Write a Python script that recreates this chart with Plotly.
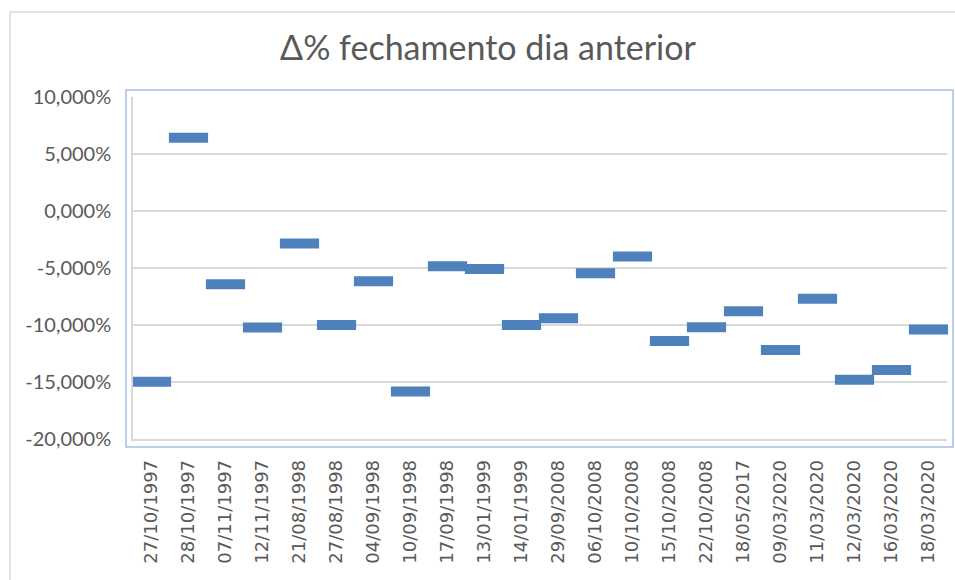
import plotly.graph_objects as go

# ---- data ----
datas = ["27/10/1997", "28/10/1997", "07/11/1997", "12/11/1997", "21/08/1998",
         "27/08/1998", "04/09/1998", "10/09/1998", "17/09/1998", "13/01/1999",
         "14/01/1999", "29/09/2008", "06/10/2008", "10/10/2008", "15/10/2008",
         "22/10/2008", "18/05/2017", "09/03/2020", "11/03/2020", "12/03/2020",
         "16/03/2020", "18/03/2020"]
variacao_pct = [-14.97, 6.42, -6.42, -10.21, -2.86,
                -10.00, -6.16, -15.83, -4.84, -5.08,
                -10.00, -9.40, -5.45, -4.00, -11.40,
                -10.20, -8.80, -12.20, -7.70, -14.80,
                -13.95, -10.40]
y_tick_vals = [10, 5, 0, -5, -10, -15, -20]
y_tick_text = ["10,000%", "5,000%", "0,000%", "-5,000%", "-10,000%", "-15,000%", "-20,000%"]

W, H = 955, 580
L, R, T, B = 133, 8, 97, 141
pw, ph = W - L - R, H - T - B

def px_x(px):
    return (px - L) / pw

def px_y(py):
    return (H - B - py) / ph

fig = go.Figure()
fig.add_trace(go.Scatter(
    x=datas, y=variacao_pct, mode="markers",
    marker=dict(symbol="line-ew", size=28, color="#4F81BD",
                line=dict(color="#4F81BD", width=10)),
    hoverinfo="x+y", showlegend=False, cliponaxis=False,
))

grid = "#D9D9D9"
txt = "#595959"
fig.update_layout(
    width=W, height=H,
    margin=dict(l=L, r=R, t=T, b=B, autoexpand=False),
    paper_bgcolor="white", plot_bgcolor="white",
    title=dict(text="Δ% fechamento dia anterior", x=0.511, xanchor="center",
               y=1 - 48 / H, yanchor="middle",
               font=dict(family="Lato", size=34, color=txt)),
    xaxis=dict(type="category", tickangle=-90, showgrid=False, automargin=False,
               showline=True, linecolor=grid, linewidth=1.5,
               ticks="", ticklabelstandoff=12,
               tickfont=dict(family="DejaVu Sans", size=18, color=txt),
               range=[-0.5, len(datas) - 0.5]),
    yaxis=dict(range=[-20, 10], tickvals=y_tick_vals, ticktext=y_tick_text,
               automargin=False,
               showgrid=True, gridcolor=grid, gridwidth=1.5,
               showline=True, linecolor=grid, linewidth=1.5,
               zeroline=False, ticks="", ticklabelstandoff=16,
               tickfont=dict(family="Lato", size=20, color=txt)),
    shapes=[
        dict(type="rect", xref="paper", yref="paper",
             x0=px_x(10), x1=px_x(970), y0=px_y(600), y1=px_y(12),
             line=dict(color="#D9D9D9", width=1.5), layer="below"),
        dict(type="rect", xref="paper", yref="paper",
             x0=px_x(126), x1=px_x(953), y0=px_y(447), y1=px_y(90),
             line=dict(color="#A7C0E4", width=1.5), layer="below"),
    ],
)

fig.write_html("out.html", config={"displayModeBar": False},
               post_script="document.body.style.margin='0';document.body.style.overflow='hidden';")
